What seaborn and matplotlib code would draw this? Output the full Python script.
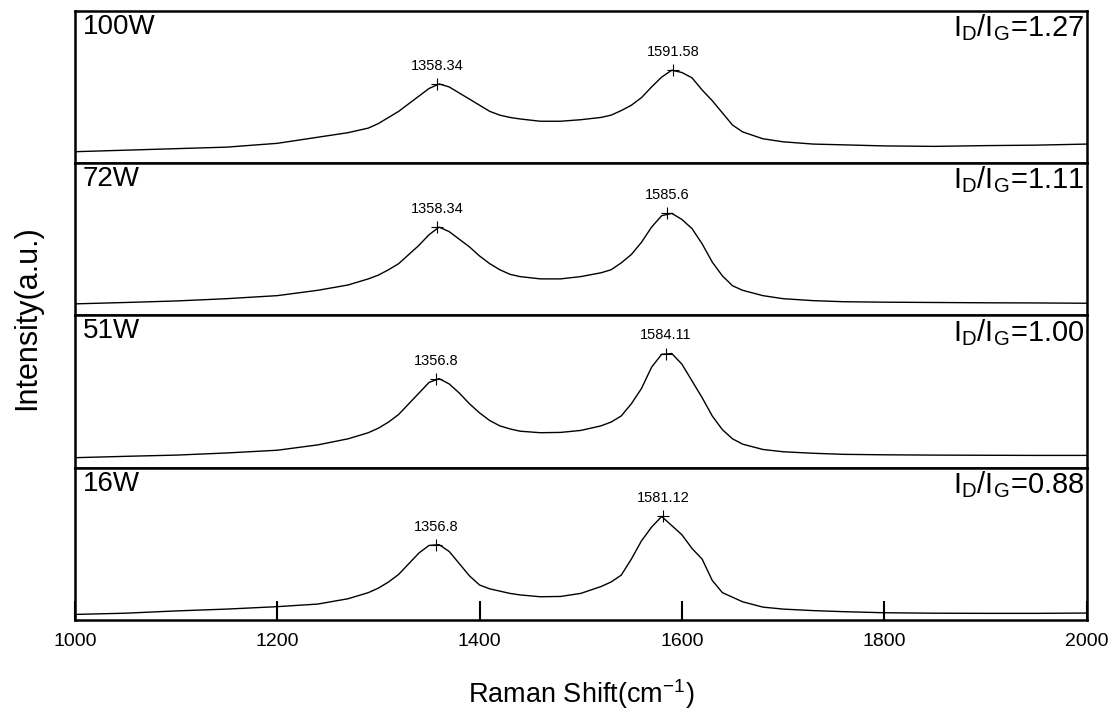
import numpy as np
import pandas as pd
import matplotlib
matplotlib.use("Agg")
import matplotlib.pyplot as plt
import seaborn as sns

# ---------------- data ----------------
wavenumber = [1000, 1050, 1100, 1150, 1200, 1240, 1270, 1290, 1300, 1310, 1320, 1330, 1340,
              1350, 1360, 1370, 1380, 1390, 1400, 1410, 1420, 1430, 1440, 1460, 1480, 1500,
              1520, 1530, 1540, 1550, 1560, 1570, 1580, 1590, 1600, 1610, 1620, 1630, 1640,
              1650, 1660, 1680, 1700, 1730, 1760, 1800, 1850, 1900, 1950, 2000]

int_100W = [0.075, 0.085, 0.095, 0.105, 0.130, 0.170, 0.200, 0.230, 0.260, 0.300, 0.340, 0.390, 0.440,
            0.490, 0.520, 0.500, 0.460, 0.420, 0.380, 0.340, 0.315, 0.300, 0.290, 0.275, 0.275, 0.285,
            0.300, 0.315, 0.345, 0.380, 0.430, 0.500, 0.565, 0.610, 0.595, 0.560, 0.480, 0.410, 0.330,
            0.250, 0.205, 0.160, 0.140, 0.125, 0.120, 0.113, 0.110, 0.115, 0.118, 0.125]

int_72W = [0.076, 0.085, 0.095, 0.110, 0.130, 0.165, 0.200, 0.240, 0.265, 0.300, 0.340, 0.400, 0.460,
           0.530, 0.580, 0.550, 0.500, 0.450, 0.390, 0.340, 0.300, 0.270, 0.255, 0.240, 0.240, 0.255,
           0.280, 0.300, 0.345, 0.400, 0.480, 0.580, 0.655, 0.670, 0.630, 0.570, 0.470, 0.350, 0.260,
           0.195, 0.165, 0.130, 0.110, 0.097, 0.090, 0.087, 0.085, 0.083, 0.082, 0.080]

int_51W = [0.066, 0.075, 0.083, 0.097, 0.115, 0.150, 0.190, 0.230, 0.260, 0.300, 0.350, 0.420, 0.490,
           0.560, 0.585, 0.550, 0.490, 0.420, 0.360, 0.310, 0.275, 0.255, 0.240, 0.230, 0.232, 0.245,
           0.275, 0.300, 0.340, 0.420, 0.520, 0.660, 0.745, 0.750, 0.680, 0.570, 0.460, 0.340, 0.250,
           0.190, 0.155, 0.120, 0.105, 0.095, 0.088, 0.085, 0.083, 0.082, 0.081, 0.081]

int_16W = [0.037, 0.045, 0.060, 0.072, 0.088, 0.105, 0.140, 0.180, 0.210, 0.250, 0.300, 0.370, 0.440,
           0.490, 0.495, 0.450, 0.370, 0.290, 0.230, 0.205, 0.190, 0.175, 0.165, 0.153, 0.155, 0.175,
           0.220, 0.250, 0.295, 0.400, 0.520, 0.610, 0.680, 0.620, 0.560, 0.470, 0.400, 0.260, 0.180,
           0.150, 0.120, 0.085, 0.072, 0.062, 0.055, 0.048, 0.045, 0.044, 0.044, 0.046]

powers = ["100W", "72W", "51W", "16W"]
ratios = ["1.27", "1.11", "1.00", "0.88"]
d_peaks = [1358.34, 1358.34, 1356.8, 1356.8]
g_peaks = [1591.58, 1585.6, 1584.11, 1581.12]
d_labels = ["1358.34", "1358.34", "1356.8", "1356.8"]
g_labels = ["1591.58", "1585.6", "1584.11", "1581.12"]
x_ticks = [1000, 1200, 1400, 1600, 1800, 2000]

series = [int_100W, int_72W, int_51W, int_16W]

# ---------------- style ----------------
sns.set_style("ticks")
plt.rcParams["font.family"] = ["Liberation Sans", "DejaVu Sans"]
plt.rcParams["mathtext.fontset"] = "custom"
plt.rcParams["mathtext.rm"] = "Liberation Sans"
plt.rcParams["mathtext.it"] = "Liberation Sans"
plt.rcParams["mathtext.default"] = "regular"
plt.rcParams["text.color"] = "black"
plt.rcParams["axes.labelcolor"] = "black"
plt.rcParams["xtick.color"] = "black"
plt.rcParams["xtick.labelcolor"] = "black"

fig, axes = plt.subplots(4, 1, figsize=(11.19, 7.21), dpi=100, sharex=True)
fig.subplots_adjust(left=0.067, right=0.971, top=0.985, bottom=0.140, hspace=0)

for i, ax in enumerate(axes):
    df = pd.DataFrame({"x": wavenumber, "y": series[i]})
    sns.lineplot(data=df, x="x", y="y", ax=ax, color="black", linewidth=1.0)
    ax.set_xlim(1000, 2000)
    ax.set_ylim(0, 1)
    ax.set_yticks([])
    ax.set_ylabel("")
    ax.set_xlabel("")
    for s in ax.spines.values():
        s.set_linewidth(1.8)
        s.set_color("black")

    # peak markers and labels
    xs = np.array(wavenumber)
    ys = np.array(series[i])
    for pk, lab in [(d_peaks[i], d_labels[i]), (g_peaks[i], g_labels[i])]:
        win = np.abs(xs - pk) <= 15
        yp = ys[win].max()
        ax.plot([pk], [yp], marker="+", color="black", markersize=9, markeredgewidth=0.8)
        ax.annotate(lab, (pk, yp), xytext=(0, 8), textcoords="offset points",
                    ha="center", va="bottom", fontsize=10.5)

    ax.text(0.008, 0.98, powers[i], transform=ax.transAxes, ha="left", va="top", fontsize=20)
    ax.text(0.998, 0.99, r"I$_D$/I$_G$=" + ratios[i], transform=ax.transAxes,
            ha="right", va="top", fontsize=21)

    ax.tick_params(axis="x", direction="in", length=0, labelbottom=False)

bottom = axes[-1]
bottom.set_xticks(x_ticks)
bottom.tick_params(axis="x", direction="in", length=14, width=1.5, labelbottom=True,
                   labelsize=14, pad=9)
bottom.set_xlabel(r"Raman Shift(cm$^{-1}$)", fontsize=19.5, labelpad=20)
fig.text(0.024, 0.559, "Intensity(a.u.)", rotation=90, ha="center", va="center", fontsize=22)

fig.savefig("out.png", dpi=100)
